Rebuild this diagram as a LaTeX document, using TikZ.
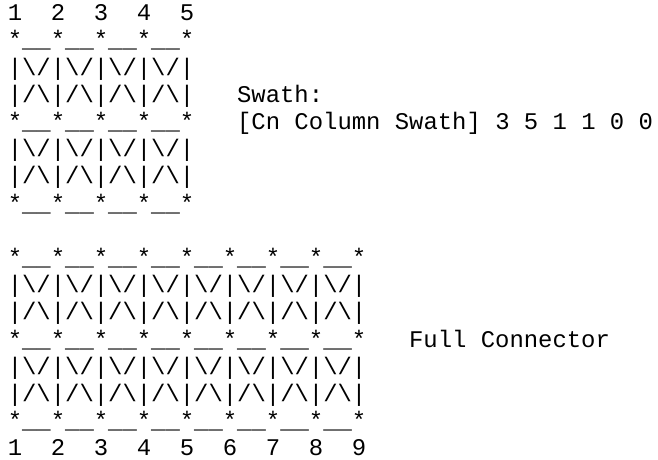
\documentclass[tikz,border=0pt]{standalone}
\usepackage{fontspec}
\setmonofont{Liberation Mono}
\newcommand\myStarSeg{*\_\_}
\newcommand\myVee{|\textbackslash/}
\newcommand\myHat{|/\textbackslash}
\newcommand\myRep[2]{\foreach \myi in {1,...,#1}{#2}}
\begin{document}
\begin{tikzpicture}[x=1pt,y=1pt,
  txt/.style={anchor=base west, inner sep=0pt, outer sep=0pt,
    font=\ttfamily\fontsize{23.9}{27.2}\selectfont}]
\useasboundingbox (0,0) rectangle (658,459);
\def\cw{14.333}
\def\xo{7.8}
% baseline of line k: 438.3 - 27.2 k
% top block
\foreach \n in {1,...,5}
  \node[txt] (t\n) at ({\xo+3*(\n-1)*\cw}, 438.3) {\n};
\node[txt] (a1) at (\xo, 411.1) {*\_\_*\_\_*\_\_*\_\_*};
\node[txt] (a2) at (\xo, 383.9) {\myVee\myVee\myVee\myVee|};
\node[txt] (a3) at (\xo, 356.7) {\myHat\myHat\myHat\myHat|};
\node[txt] (swath) at ({\xo+16*\cw}, 356.7) {Swath:};
\node[txt] (a4) at (\xo, 329.5) {*\_\_*\_\_*\_\_*\_\_*};
\node[txt] (cn) at ({\xo+16*\cw}, 329.5) {[Cn\ Column\ Swath]\ 3\ 5\ 1\ 1\ 0\ 0};
\node[txt] (a5) at (\xo, 302.3) {\myVee\myVee\myVee\myVee|};
\node[txt] (a6) at (\xo, 275.1) {\myHat\myHat\myHat\myHat|};
\node[txt] (a7) at (\xo, 247.9) {*\_\_*\_\_*\_\_*\_\_*};
% bottom block
\node[txt] (b9) at (\xo, 193.5) {*\_\_*\_\_*\_\_*\_\_*\_\_*\_\_*\_\_*\_\_*};
\node[txt] (b10) at (\xo, 166.3) {\myVee\myVee\myVee\myVee\myVee\myVee\myVee\myVee|};
\node[txt] (b11) at (\xo, 139.1) {\myHat\myHat\myHat\myHat\myHat\myHat\myHat\myHat|};
\node[txt] (b12) at (\xo, 111.9) {*\_\_*\_\_*\_\_*\_\_*\_\_*\_\_*\_\_*\_\_*};
\node[txt] (full) at ({\xo+28*\cw}, 111.9) {Full\ Connector};
\node[txt] (b13) at (\xo, 84.7) {\myVee\myVee\myVee\myVee\myVee\myVee\myVee\myVee|};
\node[txt] (b14) at (\xo, 57.5) {\myHat\myHat\myHat\myHat\myHat\myHat\myHat\myHat|};
\node[txt] (b15) at (\xo, 30.3) {*\_\_*\_\_*\_\_*\_\_*\_\_*\_\_*\_\_*\_\_*};
\foreach \n in {1,...,9}
  \node[txt] (d\n) at ({\xo+3*(\n-1)*\cw}, 3.1) {\n};
\end{tikzpicture}
\end{document}
